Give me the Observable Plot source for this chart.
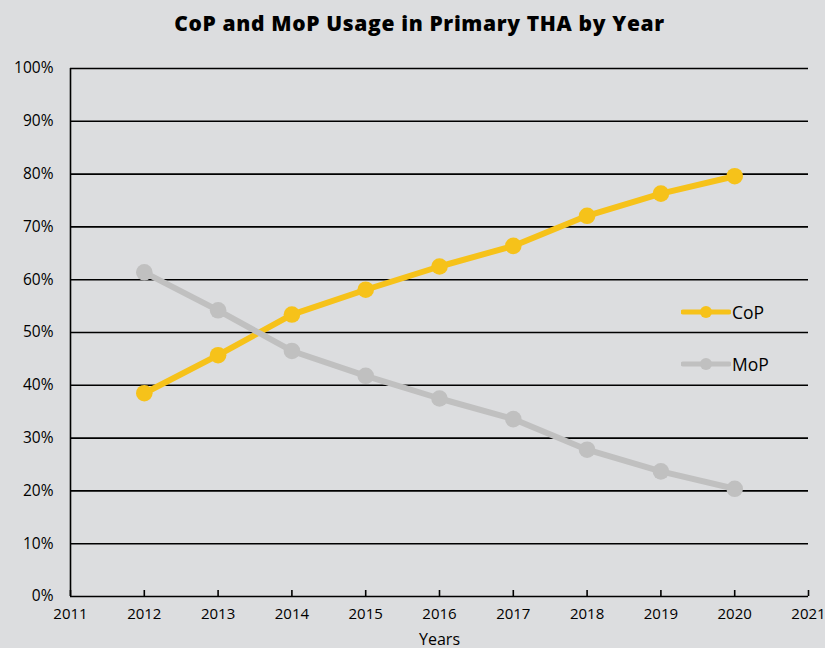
<!DOCTYPE html>
<html>
<head>
<meta charset="utf-8">
<script src="https://cdn.jsdelivr.net/npm/d3@7"></script>
<script src="https://cdn.jsdelivr.net/npm/@observablehq/plot@0.6"></script>
<style>
  html, body { margin: 0; padding: 0; background: #dcdddf; }
  #wrap { position: relative; width: 825px; height: 648px; overflow: hidden; font-family: "Open Sans", sans-serif; }
  #title { height: 45px; line-height: 47px; text-align: center; font-weight: 800; font-size: 21px; letter-spacing: 0.65px; color: #000; padding-left: 14px; overflow: hidden; }
  #legend { position: absolute; left: 681px; top: 289px; }
  .row { display: flex; align-items: center; height: 46px; margin-bottom: 6px; }
  .row span { font-size: 17.5px; color: #000; margin-left: 1px; }
</style>
</head>
<body>
<div id="wrap">
  <div id="title">CoP and MoP Usage in Primary THA by Year</div>
  <div id="chart"></div>
  <div id="legend"></div>
</div>
<script>
// Share of primary THA procedures by bearing type, 2012–2020 (%)
const years = [2012, 2013, 2014, 2015, 2016, 2017, 2018, 2019, 2020];
const cop = [38.5, 45.7, 53.4, 58.1, 62.5, 66.4, 72.1, 76.3, 79.6];
const mop = [61.4, 54.2, 46.5, 41.8, 37.5, 33.6, 27.8, 23.7, 20.4];

const seriesNames = ["CoP", "MoP"];
const seriesColors = ["#f6c21a", "#c0c0c0"];

const xTicks = [2011, 2012, 2013, 2014, 2015, 2016, 2017, 2018, 2019, 2020, 2021];
const yTicks = [0, 10, 20, 30, 40, 50, 60, 70, 80, 90, 100];

const rows = [
  ...years.map((year, i) => ({year, value: cop[i], series: seriesNames[0]})),
  ...years.map((year, i) => ({year, value: mop[i], series: seriesNames[1]}))
];

const chart = Plot.plot({
  width: 825,
  height: 603,
  marginTop: 23,
  marginLeft: 70,
  marginRight: 17,
  marginBottom: 52,
  style: {background: "transparent", fontFamily: "Open Sans, sans-serif", color: "#000", overflow: "visible"},
  x: {domain: [2011, 2021]},
  y: {domain: [0, 100]},
  color: {domain: seriesNames, range: seriesColors},
  marks: [
    Plot.ruleY(yTicks, {stroke: "#000", strokeWidth: 1.6}),
    Plot.ruleX([2011], {stroke: "#000", strokeWidth: 1.6}),
    Plot.axisY({ticks: yTicks, tickSize: 0, tickPadding: 17, tickFormat: d => d + "%", fontSize: 15.5, label: null}),
    Plot.axisX({ticks: xTicks, tickSize: -6, tickPadding: 18, tickFormat: "d", fontSize: 15,
      stroke: "#000", strokeWidth: 1.6, label: "Years", labelAnchor: "center", labelArrow: "none", labelOffset: 48}),
    ...seriesNames.map(name => Plot.line(rows.filter(r => r.series === name), {
      x: "year", y: "value", stroke: "series", strokeWidth: 6, strokeLinejoin: "round"
    })),
    ...seriesNames.map(name => Plot.dot(rows.filter(r => r.series === name), {
      x: "year", y: "value", fill: "series", r: 8.3
    }))
  ]
});
chart.querySelectorAll("[aria-label='x-axis label'] text").forEach(t => { t.setAttribute("font-size", 16); });
document.getElementById("chart").appendChild(chart);

// Inline legend: a short line with a dot for each series
const legend = d3.select("#legend");
seriesNames.forEach((name, i) => {
  const row = legend.append("div").attr("class", "row");
  const svg = row.append("svg").attr("width", 50).attr("height", 14);
  svg.append("line").attr("x1", 2).attr("x2", 48).attr("y1", 7).attr("y2", 7)
    .attr("stroke", seriesColors[i]).attr("stroke-width", 5).attr("stroke-linecap", "round");
  svg.append("circle").attr("cx", 25).attr("cy", 7).attr("r", 6).attr("fill", seriesColors[i]);
  row.append("span").text(name);
});
</script>
</body>
</html>
